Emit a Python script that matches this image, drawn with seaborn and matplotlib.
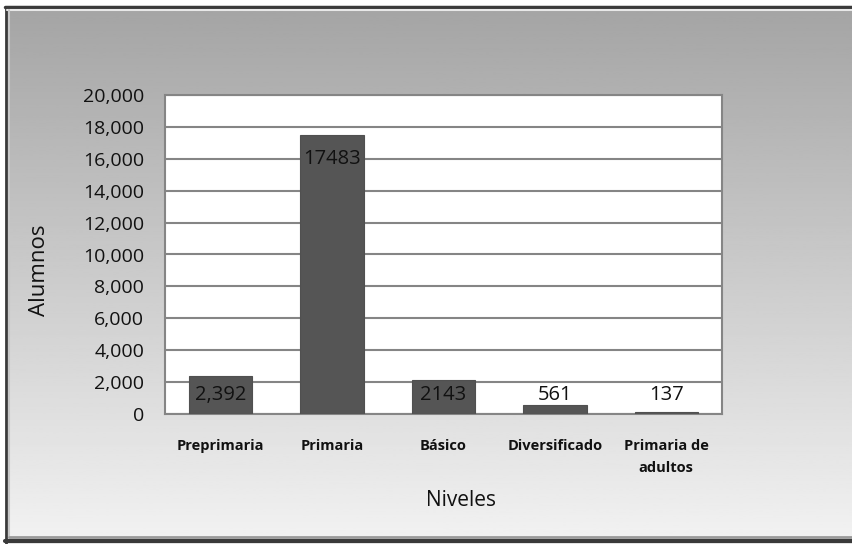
import numpy as np
import pandas as pd
import matplotlib
matplotlib.use("Agg")
import matplotlib.pyplot as plt
from matplotlib.patches import Rectangle
from matplotlib.ticker import FuncFormatter, MultipleLocator
import seaborn as sns

# Enrolment by education level
niveles = ["Preprimaria", "Primaria", "Básico", "Diversificado", "Primaria de\nadultos"]
alumnos = [2392, 17483, 2143, 561, 137]
etiquetas = ["2,392", "17483", "2143", "561", "137"]

sns.set_theme(style="white")
plt.rcParams["font.family"] = ["Open Sans", "DejaVu Sans"]

W, H = 853, 544
fig = plt.figure(figsize=(W / 100, H / 100), dpi=100)

# Gradient background with a bevelled frame
bg = fig.add_axes([0, 0, 1, 1], zorder=-2)
grad = np.linspace(0.64, 0.95, 256).reshape(-1, 1)
bg.imshow(grad, aspect="auto", cmap="gray", vmin=0, vmax=1,
          extent=[0, 1, 0, 1], origin="upper")
bg.set_xlim(0, 1)
bg.set_ylim(0, 1)
bg.axis("off")
px, py = 1 / W, 1 / H
bg.add_patch(Rectangle((0, 1 - 6 * py), 1, 6 * py, color="white", zorder=3))
bg.add_patch(Rectangle((0, 0), 5 * px, 1, color="white", zorder=3))
bg.plot([5 * px, 1], [1 - 7 * py, 1 - 7 * py], color="#3a3a3a", lw=2.5, zorder=4)
bg.plot([6 * px, 6 * px], [0, 1 - 7 * py], color="#3a3a3a", lw=2, zorder=4)
bg.plot([5 * px, 1], [3 * py, 3 * py], color="#3a3a3a", lw=3, zorder=4)
bg.plot([7 * px, 1], [1 - 10 * py, 1 - 10 * py], color="#e8e8e8", lw=1.5, zorder=4)
bg.plot([9 * px, 9 * px], [6 * py, 1 - 10 * py], color="#c8c8c8", lw=1.5, zorder=4)
bg.plot([9 * px, 1], [7 * py, 7 * py], color="#9a9a9a", lw=2, zorder=4)

ax = fig.add_axes([165 / W, 130 / H, 557 / W, 319 / H])
ax.set_facecolor("white")
df = pd.DataFrame({"Niveles": niveles, "Alumnos": alumnos})
sns.barplot(data=df, x="Niveles", y="Alumnos", color="#555555",
            width=0.57, saturation=1, ax=ax, zorder=3,
            edgecolor="#505050", linewidth=0.8)

ax.set_ylim(0, 20000)
ax.yaxis.set_major_locator(MultipleLocator(2000))
ax.yaxis.set_major_formatter(FuncFormatter(lambda v, p: f"{int(v):,}"))
ax.grid(axis="y", color="#858585", lw=1.5, zorder=0)
ax.set_axisbelow(True)
for s in ax.spines.values():
    s.set_color("#858585")
    s.set_linewidth(1.5)

for i, (v, t) in enumerate(zip(alumnos, etiquetas)):
    y = v - 1500 if v > 5000 else 1200
    ax.text(i, y, t, ha="center", va="center", fontsize=14.5,
            color="#111111", zorder=5)

ax.tick_params(axis="y", labelsize=14, length=0, pad=15, labelcolor="#111111")
ax.tick_params(axis="x", length=0, pad=18)
for lab in ax.get_xticklabels():
    lab.set_fontsize(10.5)
    lab.set_fontweight("bold")
    lab.set_color("#111111")
    lab.set_linespacing(1.75)

ax.set_xlabel("")
ax.set_ylabel("")
fig.text(40 / W, 1 - 270 / H, "Alumnos", rotation=90, ha="center", va="center",
         fontsize=16, color="#111111")
fig.text(461 / W, 1 - 500 / H, "Niveles", ha="center", va="center",
         fontsize=15, color="#111111")

fig.savefig("out.png", dpi=100)
